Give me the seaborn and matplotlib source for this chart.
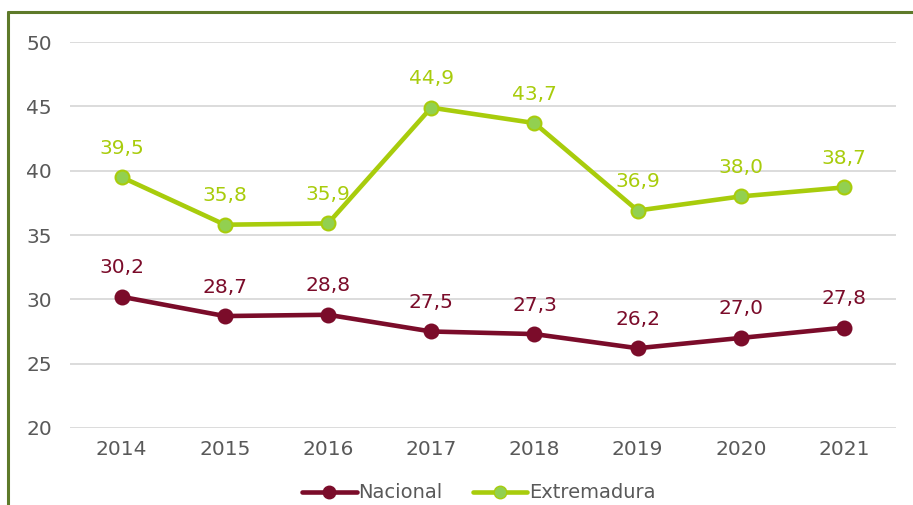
import matplotlib
matplotlib.use("Agg")
import matplotlib.pyplot as plt
import seaborn as sns
import pandas as pd
from matplotlib.lines import Line2D

# data
years = ["2014", "2015", "2016", "2017", "2018", "2019", "2020", "2021"]
nacional = [30.2, 28.7, 28.8, 27.5, 27.3, 26.2, 27.0, 27.8]
extremadura = [39.5, 35.8, 35.9, 44.9, 43.7, 36.9, 38.0, 38.7]
series_names = ["Nacional", "Extremadura"]

df = pd.DataFrame({
    "year": years * 2,
    "value": nacional + extremadura,
    "serie": [series_names[0]] * len(years) + [series_names[1]] * len(years),
})

line_colors = {"Nacional": "#7B0C2A", "Extremadura": "#A8CC0C"}
marker_colors = {"Nacional": "#7B0C2A", "Extremadura": "#92D050"}

sns.set_theme(style="white")
plt.rcParams["font.family"] = ["DejaVu Sans"]

fig = plt.figure(figsize=(9.13, 5.05), dpi=100)
ax = fig.add_axes([0.0767, 0.1525, 0.9043, 0.7643])

sns.lineplot(data=df, x="year", y="value", hue="serie", palette=line_colors,
             linewidth=3.3, sort=False, legend=False, ax=ax)

for name in series_names:
    sub = df[df["serie"] == name]
    ax.scatter(sub["year"], sub["value"], s=100, color=marker_colors[name],
               edgecolor=line_colors[name], linewidth=1.5, zorder=3)
    for x, v in zip(sub["year"], sub["value"]):
        ax.annotate(f"{v:.1f}".replace(".", ","), (x, v), xytext=(0, 14),
                    textcoords="offset points", ha="center", va="bottom",
                    fontsize=14.5, color=line_colors[name])

ax.set_ylim(20, 50)
ax.set_xlim(-0.5, len(years) - 0.5)
ax.set_yticks(range(20, 51, 5))
ax.yaxis.grid(True, color="#D9D9D9", linewidth=1.3)
ax.set_axisbelow(True)
for s in ax.spines.values():
    s.set_visible(False)
ax.set_xlabel("")
ax.set_ylabel("")
ax.tick_params(axis="both", labelsize=14.5, colors="#595959", length=0)
ax.tick_params(axis="x", pad=9)
ax.tick_params(axis="y", pad=13)

# outer frame (top + left visible)
bx = 8 / 913
by = 1 - 12 / 505
fig.add_artist(Line2D([bx, 1], [by, by], transform=fig.transFigure, color="#5E7A2A", linewidth=2.2))
fig.add_artist(Line2D([bx, bx], [0, by], transform=fig.transFigure, color="#5E7A2A", linewidth=2.2))

handles = [Line2D([], [], color=line_colors[n], linewidth=3.3, marker="o", markersize=9,
                  markerfacecolor=marker_colors[n], markeredgecolor=line_colors[n])
           for n in series_names]
fig.legend(handles, series_names, loc="center", bbox_to_anchor=(479 / 913, 1 - 493 / 505), ncol=2,
           frameon=False, fontsize=14, labelcolor="#595959", handlelength=2.8,
           handletextpad=0.1, columnspacing=1.55)

fig.savefig("out.png", dpi=100)
